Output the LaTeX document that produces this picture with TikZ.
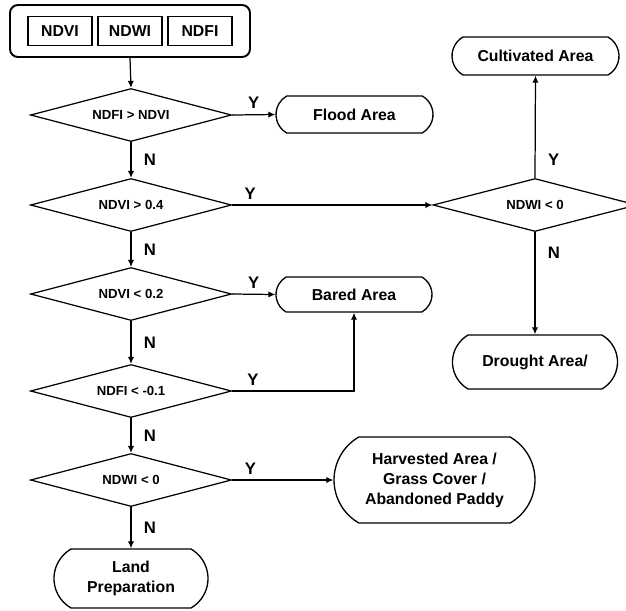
\documentclass[tikz,border=0pt]{standalone}
\usepackage{fontspec}
\setmainfont{Liberation Sans}
\usetikzlibrary{shapes.geometric,shapes.misc,arrows.meta,positioning}

\tikzset{
  decision/.style={draw, diamond, aspect=3.8, line width=0.7pt, inner sep=0pt,
    minimum width=201*0.02cm, minimum height=53*0.02cm,
    font=\fontsize{7.5}{9}\selectfont\bfseries},
  terminal/.style={draw, rounded rectangle, rounded rectangle arc length=120,
    line width=0.75pt, inner sep=0pt, align=center,
    font=\fontsize{9}{11.4}\selectfont\bfseries},
  inbox/.style={draw, rectangle, line width=0.75pt, inner sep=0pt,
    minimum width=64*0.02cm, minimum height=29*0.02cm,
    font=\fontsize{9}{11}\selectfont\bfseries},
  arr/.style={line width=0.7pt, -{Latex[length=4pt,width=3.6pt]}},
  yn/.style={font=\fontsize{9.5}{11}\selectfont\bfseries, inner sep=1pt}
}

\begin{document}
\begin{tikzpicture}[x=0.02cm, y=-0.02cm]
\useasboundingbox (0,0) rectangle (626,610);
% input indices
\node[draw, rectangle, rounded corners=8*0.02cm, line width=1.1pt,
  minimum width=240*0.02cm, minimum height=52*0.02cm] (input) at (130,31) {};
\node[inbox] (ndvi) at (60,31) {NDVI};
\node[inbox] (ndwi) at (130,31) {NDWI};
\node[inbox] (ndfi) at (200,31) {NDFI};
% decisions
\node[decision] (d1) at (131,115) {NDFI > NDVI};
\node[decision] (d2) at (131,205) {NDVI > 0.4};
\node[decision] (d3) at (131,294) {NDVI < 0.2};
\node[decision] (d4) at (131,391) {NDFI < -0.1};
\node[decision] (d5) at (131,480) {NDWI < 0};
\node[decision, minimum width=204*0.02cm] (d6) at (535,205) {NDWI < 0};
% classes
\node[terminal, minimum width=157*0.02cm, minimum height=37*0.02cm] (flood) at (354.5,114.5) {Flood Area};
\node[terminal, minimum width=156*0.02cm, minimum height=35*0.02cm] (bared) at (354,294.5) {Bared Area};
\node[terminal, minimum width=167*0.02cm, minimum height=38*0.02cm] (cult) at (535.5,56) {Cultivated Area};
\node[terminal, minimum width=165*0.02cm, minimum height=54*0.02cm] (drought) at (535,362) {Drought Area/};
\node[terminal, minimum width=201*0.02cm, minimum height=86*0.02cm] (harv) at (434.5,480) {Harvested Area /\\Grass Cover /\\Abandoned Paddy};
\node[terminal, minimum width=154*0.02cm, minimum height=59*0.02cm] (land) at (131,578.5) {Land\\Preparation};
% connectors
\draw[arr] (input.south) -- (d1.north);
\draw[arr] (d1.east) -- node[yn, midway, above=2pt] (y1) {Y} (flood.west);
\draw[arr] (d1.south) -- node[yn, midway, right=6pt] (n1) {N} (d2.north);
\draw[arr] (d2.east) -- node[yn, pos=.09, above=2pt] (y2) {Y} (d6.west);
\draw[arr] (d2.south) -- node[yn, midway, right=6pt] (n2) {N} (d3.north);
\draw[arr] (d3.east) -- node[yn, midway, above=2pt] (y3) {Y} (bared.west);
\draw[arr] (d3.south) -- node[yn, midway, right=6pt] (n3) {N} (d4.north);
\draw[arr] (d4.east) -| node[yn, pos=.085, above=2pt] (y4) {Y} (bared.south);
\draw[arr] (d4.south) -- node[yn, midway, right=6pt] (n4) {N} (d5.north);
\draw[arr] (d5.east) -- node[yn, pos=.18, above=2pt] (y5) {Y} (harv.west);
\draw[arr] (d5.south) -- node[yn, midway, right=6pt] (n5) {N} (land.north);
\draw[arr] (d6.north) -- node[yn, pos=.18, right=6pt] (y6) {Y} (cult.south);
\draw[arr] (d6.south) -- node[yn, pos=.2, right=6pt] (n6) {N} (drought.north);
\end{tikzpicture}
\end{document}
